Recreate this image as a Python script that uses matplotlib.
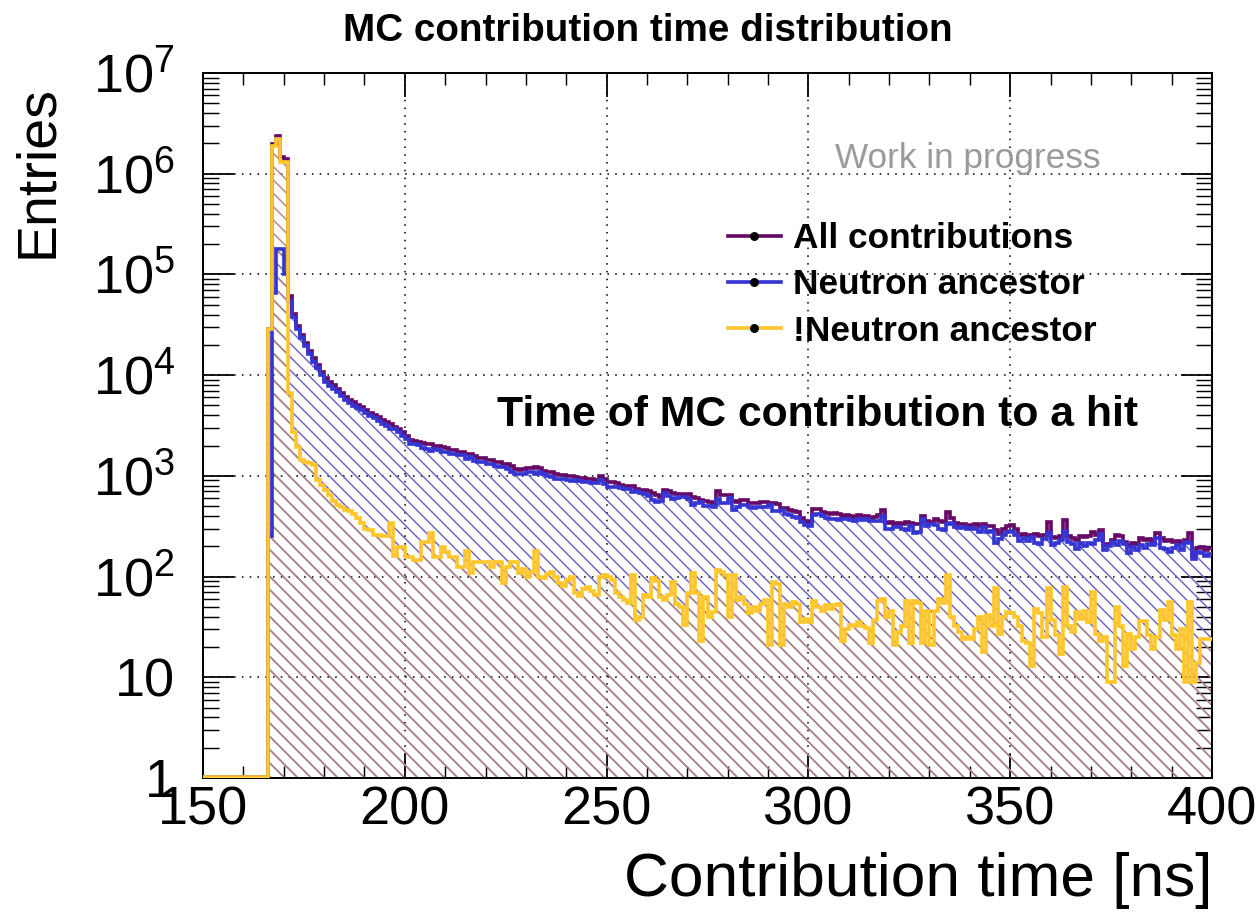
import numpy as np
import matplotlib
matplotlib.use("Agg")
import matplotlib.pyplot as plt
import matplotlib.transforms as mtransforms
from matplotlib.lines import Line2D
from matplotlib.ticker import MultipleLocator, LogLocator, NullFormatter, FixedLocator

plt.rcParams['font.family'] = ['Liberation Sans', 'DejaVu Sans']
plt.rcParams['mathtext.fontset'] = 'custom'
plt.rcParams['mathtext.rm'] = 'Liberation Sans'
plt.rcParams['hatch.linewidth'] = 1.3

# ---------------- data ----------------
x_min, x_max, bin_width = 150, 400, 1
empty_bins = 16          # bins 150..165 are empty

# bins 166 .. 399
all_contrib = [
    29000, 1970000, 2380000, 1480000, 1400000, 61600, 40700, 31000, 25000, 21000,
    17500, 14800, 12600, 10800, 9300, 8500, 7900, 7300, 6700, 6100,
    5700, 5400, 5100, 4800, 4500, 4250, 4000, 3800, 3550, 3400,
    3250, 3050, 2900, 2700, 2500, 2250, 2200, 2180, 2130, 2080,
    2050, 2000, 1960, 1920, 1900, 1820, 1800, 1740, 1720, 1650,
    1660, 1560, 1520, 1500, 1450, 1440, 1380, 1370, 1300, 1300,
    1240, 1180, 1150, 1170, 1200, 1210, 1220, 1190, 1130, 1100,
    1080, 1040, 1020, 1010, 1000, 990, 980, 960, 950, 940,
    930, 920, 1000, 930, 875, 870, 840, 820, 800, 800,
    790, 740, 720, 720, 700, 670, 640, 620, 730, 700,
    680, 660, 660, 650, 660, 620, 600, 570, 560, 545,
    535, 700, 650, 645, 640, 560, 555, 575, 570, 535,
    535, 540, 550, 545, 535, 540, 530, 475, 475, 460,
    450, 435, 380, 360, 350, 470, 465, 440, 430, 420,
    425, 415, 400, 405, 395, 390, 410, 395, 400, 380,
    390, 410, 460, 340, 345, 335, 340, 330, 345, 340,
    330, 335, 395, 360, 350, 370, 360, 345, 440, 380,
    340, 330, 335, 320, 325, 330, 320, 330, 320, 315,
    290, 265, 300, 320, 325, 300, 260, 265, 250, 258,
    265, 255, 260, 350, 245, 240, 250, 365, 250, 240,
    230, 255, 245, 250, 280, 260, 290, 207, 210, 230,
    258, 255, 222, 200, 215, 210, 240, 230, 235, 225,
    269, 240, 225, 230, 220, 225, 215, 230, 269, 160,
    190, 195, 185, 190,
]

neutron_anc = [
    250, 65000, 180000, 180000, 100000, 55000, 38000, 29000, 23500, 19600,
    16150, 13520, 11690, 9990, 8580, 7860, 7340, 6790, 6205, 5640,
    5250, 4980, 4720, 4460, 4200, 3960, 3742, 3542, 3300, 3150,
    2910, 2890, 2704, 2504, 2344, 2094, 2055, 2035, 1910, 1860,
    1780, 1844, 1804, 1724, 1725, 1664, 1644, 1616, 1596, 1470,
    1552, 1420, 1382, 1362, 1312, 1316, 1240, 1230, 1213, 1176,
    1100, 1040, 1042, 1052, 1100, 1098, 1040, 1090, 1034, 995,
    970, 940, 933, 930, 907, 892, 911, 896, 875, 862,
    858, 854, 900, 826, 775, 778, 772, 758, 741, 745,
    686, 703, 680, 654, 637, 573, 550, 557, 672, 634,
    591, 606, 610, 617, 592, 512, 532, 547, 497, 505,
    491, 583, 540, 541, 600, 456, 496, 513, 516, 492,
    485, 494, 496, 487, 514, 451, 446, 454, 421, 410,
    394, 381, 345, 322, 315, 413, 415, 395, 378, 372,
    373, 361, 377, 375, 362, 358, 375, 363, 369, 358,
    353, 353, 400, 300, 300, 314, 312, 298, 288, 318,
    273, 280, 373, 315, 329, 325, 300, 290, 336, 340,
    308, 302, 311, 295, 301, 300, 280, 312, 278, 283,
    213, 238, 260, 276, 282, 260, 228, 242, 228, 245,
    217, 212, 235, 273, 208, 214, 233, 286, 218, 212,
    186, 217, 200, 215, 209, 233, 267, 182, 201, 221,
    208, 223, 209, 173, 196, 185, 204, 194, 209, 206,
    244, 193, 188, 174, 194, 206, 185, 221, 213, 151,
    176, 171, 161, 166,
]

non_neutron_anc = [
    29000, 1900000, 2200000, 1300000, 1300000, 6600, 2700, 1940, 1440, 1380,
    1350, 1280, 910, 810, 720, 640, 560, 510, 495, 460,
    450, 420, 380, 340, 300, 290, 258, 258, 250, 250,
    340, 160, 196, 196, 156, 156, 145, 145, 220, 220,
    270, 156, 156, 196, 175, 156, 156, 124, 124, 180,
    108, 140, 138, 138, 138, 124, 140, 140, 87, 124,
    140, 140, 108, 118, 100, 112, 180, 100, 96, 105,
    110, 100, 87, 80, 93, 98, 69, 64, 75, 78,
    72, 66, 100, 104, 100, 92, 68, 62, 59, 55,
    104, 37, 40, 66, 63, 97, 90, 63, 58, 66,
    89, 54, 50, 33, 68, 108, 68, 23, 63, 40,
    44, 117, 110, 104, 40, 104, 59, 62, 54, 43,
    50, 46, 54, 58, 21, 89, 84, 21, 54, 50,
    56, 54, 35, 38, 35, 57, 50, 45, 52, 48,
    52, 54, 23, 30, 33, 32, 35, 32, 31, 22,
    37, 57, 60, 40, 45, 21, 28, 32, 57, 22,
    57, 55, 22, 45, 21, 45, 60, 55, 104, 40,
    32, 28, 24, 25, 24, 30, 40, 18, 42, 32,
    77, 27, 40, 44, 43, 40, 32, 23, 22, 13,
    48, 43, 25, 77, 37, 26, 17, 79, 32, 28,
    44, 38, 45, 35, 71, 27, 23, 25, 9, 9,
    50, 32, 13, 27, 19, 25, 36, 36, 26, 19,
    25, 47, 37, 56, 26, 19, 30, 9, 56, 9,
    14, 24, 24, 24,
]

series_labels = ["All contributions", "Neutron ancestor", "!Neutron ancestor"]
y_decades = [1, 10, 1e2, 1e3, 1e4, 1e5, 1e6, 1e7]
y_tick_labels = ["1", "10", r"$\mathregular{10^{2}}$", r"$\mathregular{10^{3}}$",
                 r"$\mathregular{10^{4}}$", r"$\mathregular{10^{5}}$",
                 r"$\mathregular{10^{6}}$", r"$\mathregular{10^{7}}$"]
x_ticks = [150, 200, 250, 300, 350, 400]

# ---------------- style ----------------
c_all = '#660a66'
c_neu = '#3535d2'
c_non = '#ffc62e'
hatch_neu = '#6a62cc'
hatch_non = '#b3857a'
y_lo, y_hi = 1, 1e7
LW = 3.3

DPI = 80
fig = plt.figure(figsize=(1259 / DPI, 916 / DPI), dpi=DPI)
ax = fig.add_axes([203 / 1259, 1 - 778 / 916, (1212 - 203) / 1259, (778 - 73) / 916])

edges = np.arange(x_min, x_max + bin_width, bin_width)


def full(v):
    return np.concatenate([np.zeros(empty_bins), np.asarray(v, float)])


h_all = full(all_contrib)
h_neu = full(neutron_anc)
h_non = full(non_neutron_anc)


def disp(v):
    # empty bins are drawn at the lower edge of the log axis (as ROOT does)
    return np.clip(v, y_lo * 1.03, None)


def step_y(v):
    d = disp(v)
    return np.append(d, d[-1])


# hatched fills (same pattern phase, so the lower one overwrites the upper one)
ax.fill_between(edges, step_y(h_neu), y_lo, step='post', facecolor='none',
                edgecolor=hatch_neu, hatch='\\\\', linewidth=0, zorder=1)
ax.fill_between(edges, step_y(h_non), y_lo, step='post', facecolor='none',
                edgecolor=hatch_non, hatch='\\\\', linewidth=0, zorder=1.1)

# outlines
ax.stairs(disp(h_all), edges, baseline=None, color=c_all, lw=LW, zorder=3)
ax.stairs(disp(h_neu), edges, baseline=None, color=c_neu, lw=LW, zorder=3.1)
ax.stairs(disp(h_non), edges, baseline=None, color=c_non, lw=LW, zorder=3.2)

ax.set_xlim(x_min, x_max)
ax.set_yscale('log')
ax.set_ylim(y_lo, y_hi)

# grid
ax.set_xticks(x_ticks)
ax.yaxis.set_major_locator(FixedLocator(y_decades))
ax.grid(True, which='major', color='black', linestyle=(0, (1, 4)), linewidth=1.4, zorder=0.5)
ax.set_axisbelow(True)

# ticks
ax.xaxis.set_minor_locator(MultipleLocator(10))
ax.yaxis.set_minor_locator(LogLocator(base=10, subs=np.arange(2, 10), numticks=30))
ax.yaxis.set_minor_formatter(NullFormatter())
ax.tick_params(axis='both', which='both', direction='in', top=True, right=True)
ax.tick_params(axis='y', which='major', length=28, width=1.6, labelleft=False)
ax.tick_params(axis='y', which='minor', length=14, width=1.3)
ax.tick_params(axis='x', which='major', length=22, width=1.6, pad=7, labelsize=48.6)
ax.tick_params(axis='x', which='minor', length=11, width=1.3)
for s in ax.spines.values():
    s.set_linewidth(1.8)

# y labels placed at the decade values (digits centred on the tick)
fs_tick = 48.6
digit_h_pt = 0.716 * fs_tick
ytrans = mtransforms.blended_transform_factory(ax.transAxes, ax.transData) + \
    mtransforms.ScaledTranslation(-28 / DPI, -digit_h_pt / 2 / 72, fig.dpi_scale_trans)
for v, lab in zip(y_decades, y_tick_labels):
    ax.text(0, v, lab, transform=ytrans, ha='right', va='baseline', fontsize=fs_tick,
            clip_on=False)

# axis titles
fig.text(1212 / 1259, 1 - 896 / 916, "Contribution time [ns]", ha='right', va='baseline',
         fontsize=56)
fig.text(38 / 1259, 1 - 85 / 916, "Entries", rotation=90, ha='center', va='top', fontsize=50)

# titles / annotations
fig.text(648 / 1259, 1 - 41 / 916, "MC contribution time distribution", ha='center',
         va='baseline', fontsize=34.8, fontweight='bold')
fig.text(835 / 1259, 1 - 168 / 916, "Work in progress", ha='left', va='baseline',
         fontsize=31.6, color='#9a9a9a')
fig.text(497 / 1259, 1 - 426 / 916, "Time of MC contribution to a hit", ha='left',
         va='baseline', fontsize=38.4, fontweight='bold')

# legend
handles = [Line2D([0], [0], color=c, lw=LW, marker='o', ms=7, mfc='black', mec='black')
           for c in (c_all, c_neu, c_non)]
fig.legend(handles, series_labels, loc='upper left',
           bbox_to_anchor=(728 / 1259, 1 - 222 / 916), frameon=False,
           prop={'family': 'Liberation Sans', 'weight': 'bold', 'size': 31.7},
           handlelength=1.5, handletextpad=0.35, labelspacing=0.38,
           borderpad=0, borderaxespad=0)

fig.savefig("out.png", dpi=DPI)
